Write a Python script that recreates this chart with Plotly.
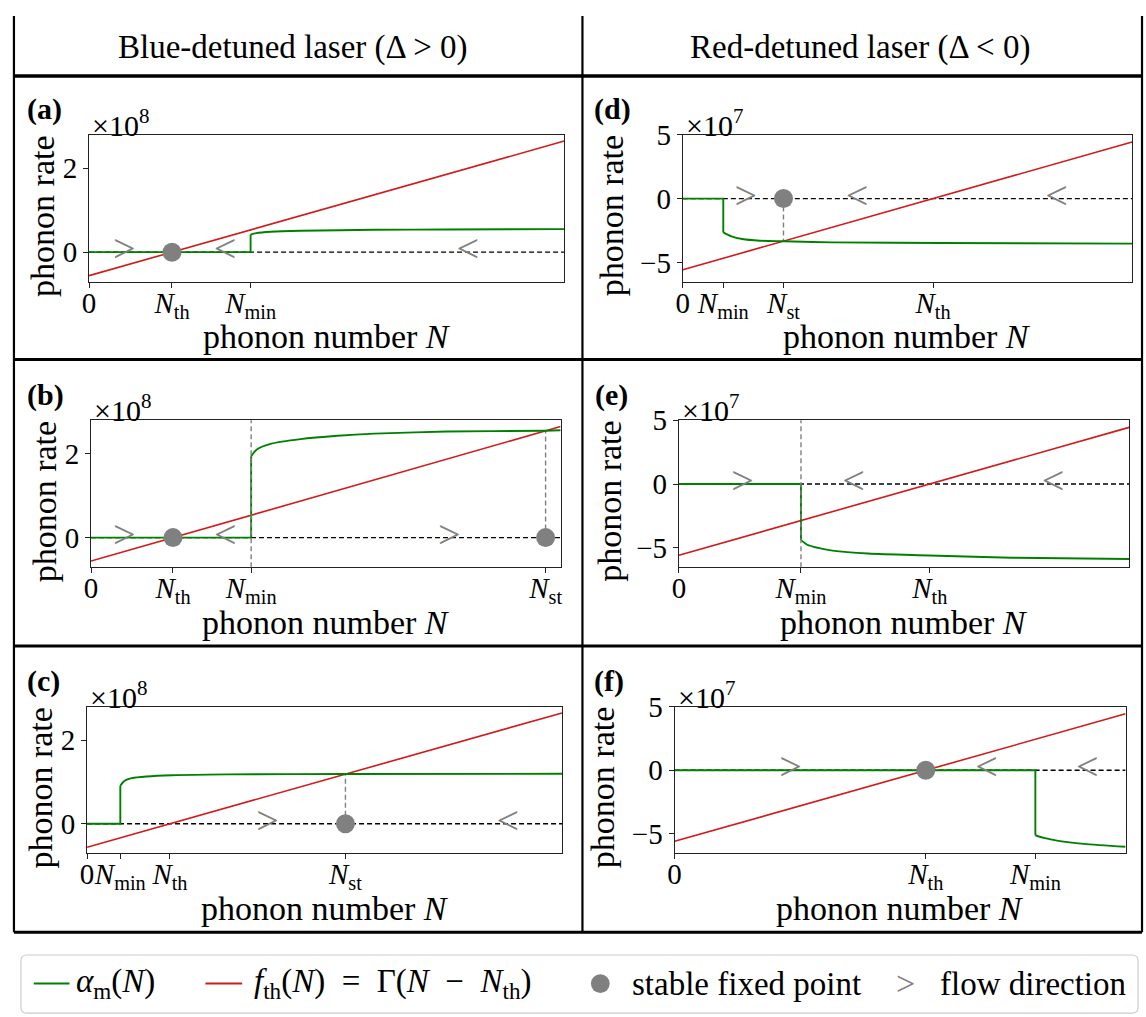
import plotly.graph_objects as go

W, H = 1146, 1017
SERIF = "Liberation Serif, Times New Roman, Times, serif"
GREEN = "#008000"
RED = "#d11a1a"
GRAY = "#808080"

# ---------------- data ----------------
# N is shown on a relative scale (0 … 1 of the plotted phonon-number range).
# Left column: blue-detuned laser, rates in units of 1e8.
blue_y_range = [-0.706, 2.8]
blue_y_ticks = [0, 2]
blue_red_ends = [-0.56, 2.65]          # f_th at N = 0 and at the right edge
blue_Nth = 0.1745

a_Nmin = 0.340
a_on_N = [0.340, 0.352, 0.383, 0.445, 0.599, 0.754, 1.0]
a_on_rate = [0.42, 0.455, 0.486, 0.51, 0.533, 0.541, 0.549]
a_flow_N = [0.074, 0.286, 0.797]
a_flow_dir = [">", "<", "<"]

b_Nmin = 0.341
b_Nst = 0.968
b_st_rate = 2.55
b_on_N = [0.341, 0.353, 0.384, 0.446, 0.525, 0.603, 0.759, 0.968, 1.0]
b_on_rate = [1.94, 2.10, 2.24, 2.35, 2.43, 2.48, 2.53, 2.55, 2.56]
b_flow_N = [0.071, 0.286, 0.763]
b_flow_dir = [">", "<", ">"]

c_Nmin = 0.070
c_Nst = 0.544
c_st_rate = 1.19
c_on_N = [0.070, 0.079, 0.094, 0.125, 0.179, 0.295, 0.544, 1.0]
c_on_rate = [0.91, 1.03, 1.09, 1.13, 1.16, 1.18, 1.19, 1.195]
c_flow_N = [0.380, 0.886]
c_flow_dir = [">", "<"]

# Right column: red-detuned laser, rates in units of 1e7.
red_y_range = [-6.52, 5.0]
red_y_ticks = [-5, 0, 5]
red_red_ends = [-5.58, 4.44]
red_Nth = 0.557

d_Nmin = 0.090
d_Nst = 0.224
d_st_rate = -3.35
d_on_N = [0.090, 0.108, 0.132, 0.172, 0.224, 0.332, 0.572, 1.0]
d_on_rate = [-2.65, -2.96, -3.17, -3.30, -3.35, -3.43, -3.48, -3.53]
d_flow_N = [0.140, 0.388, 0.832]
d_flow_dir = [">", "<", "<"]

e_Nmin = 0.271
e_on_N = [0.271, 0.285, 0.309, 0.341, 0.420, 0.556, 0.739, 1.0]
e_on_rate = [-4.38, -4.76, -5.01, -5.22, -5.45, -5.60, -5.78, -5.88]
e_flow_N = [0.141, 0.388, 0.831]
e_flow_dir = [">", "<", "<"]

f_Nmin = 0.800
f_on_N = [0.800, 0.819, 0.851, 0.907, 1.0]
f_on_rate = [-5.10, -5.31, -5.54, -5.78, -6.01]
f_flow_N = [0.257, 0.692, 0.915]
f_flow_dir = [">", "<", "<"]

NTH = "<i>N</i><sub>th</sub>"
NMIN = "<i>N</i><sub>min</sub>"
NST = "<i>N</i><sub>st</sub>"

panels = [
    dict(tag="(a)", exp="8", yr=blue_y_range, yt=blue_y_ticks, red=blue_red_ends,
         Nmin=a_Nmin, on_N=a_on_N, on_rate=a_on_rate,
         fixed=[blue_Nth], st=None, full_vline=None,
         flow_N=a_flow_N, flow_dir=a_flow_dir,
         xt=[(0, "0"), (blue_Nth, NTH), (a_Nmin, NMIN)]),
    dict(tag="(b)", exp="8", yr=blue_y_range, yt=blue_y_ticks, red=blue_red_ends,
         Nmin=b_Nmin, on_N=b_on_N, on_rate=b_on_rate,
         fixed=[blue_Nth, b_Nst], st=(b_Nst, b_st_rate), full_vline=b_Nmin,
         flow_N=b_flow_N, flow_dir=b_flow_dir,
         xt=[(0, "0"), (blue_Nth, NTH), (b_Nmin, NMIN), (b_Nst, NST)]),
    dict(tag="(c)", exp="8", yr=blue_y_range, yt=blue_y_ticks, red=blue_red_ends,
         Nmin=c_Nmin, on_N=c_on_N, on_rate=c_on_rate,
         fixed=[c_Nst], st=(c_Nst, c_st_rate), full_vline=None,
         flow_N=c_flow_N, flow_dir=c_flow_dir,
         xt=[(0, "0"), (c_Nmin, NMIN), (blue_Nth, NTH), (c_Nst, NST)]),
    dict(tag="(d)", exp="7", yr=red_y_range, yt=red_y_ticks, red=red_red_ends,
         Nmin=d_Nmin, on_N=d_on_N, on_rate=d_on_rate,
         fixed=[d_Nst], st=(d_Nst, d_st_rate), full_vline=None,
         flow_N=d_flow_N, flow_dir=d_flow_dir,
         xt=[(0, "0"), (d_Nmin, NMIN), (d_Nst, NST), (red_Nth, NTH)]),
    dict(tag="(e)", exp="7", yr=red_y_range, yt=red_y_ticks, red=red_red_ends,
         Nmin=e_Nmin, on_N=e_on_N, on_rate=e_on_rate,
         fixed=[], st=None, full_vline=e_Nmin,
         flow_N=e_flow_N, flow_dir=e_flow_dir,
         xt=[(0, "0"), (e_Nmin, NMIN), (red_Nth, NTH)]),
    dict(tag="(f)", exp="7", yr=red_y_range, yt=red_y_ticks, red=red_red_ends,
         Nmin=f_Nmin, on_N=f_on_N, on_rate=f_on_rate,
         fixed=[red_Nth], st=None, full_vline=None,
         flow_N=f_flow_N, flow_dir=f_flow_dir,
         xt=[(0, "0"), (red_Nth, NTH), (f_Nmin, NMIN)]),
]

# ---------------- layout geometry (pixels) ----------------
# plot boxes: left, right, top, bottom
boxes = [
    (82.7, 561.6, 120.7, 270.0),
    (84.7, 558.0, 410.7, 560.0),
    (80.7, 559.4, 701.7, 850.7),
    (681.2, 1134.0, 120.7, 270.0),
    (677.3, 1131.0, 410.7, 560.0),
    (672.9, 1127.4, 701.7, 850.7),
]
ytitle_x = [35, 38, 34, 609, 607, 601]
tag_x = [37.5, 39, 37, 610, 609, 607]


def px(x):
    return x / W


def py(y):
    return 1 - y / H


fig = go.Figure()
layout = dict(
    width=W, height=H, margin=dict(l=0, r=0, t=0, b=0),
    paper_bgcolor="white", plot_bgcolor="white", showlegend=False,
    font=dict(family=SERIF, color="black"),
)
annotations = []
shapes = []

for k, (p, box) in enumerate(zip(panels, boxes), start=1):
    xa = "x" if k == 1 else f"x{k}"
    ya = "y" if k == 1 else f"y{k}"
    x0, x1, y0, y1 = box
    ticktext_y = [("−" + str(-v)) if v < 0 else str(v) for v in p["yt"]]
    layout["xaxis" if k == 1 else f"xaxis{k}"] = dict(
        domain=[px(x0), px(x1)], range=[0, 1], anchor=ya,
        showgrid=False, zeroline=False, showline=True, mirror=True,
        linecolor="#222", linewidth=1.2,
        ticks="outside", ticklen=5, tickwidth=1.2, tickcolor="#222",
        tickangle=0, ticklabelstandoff=-10,
        tickvals=[t[0] for t in p["xt"]], ticktext=[t[1] for t in p["xt"]],
        tickfont=dict(family=SERIF, size=29, color="black"),
    )
    layout["yaxis" if k == 1 else f"yaxis{k}"] = dict(
        domain=[py(y1), py(y0)], range=p["yr"], anchor=xa,
        showgrid=False, zeroline=False, showline=True, mirror=True,
        linecolor="#222", linewidth=1.2,
        ticks="outside", ticklen=5, tickwidth=1.2, tickcolor="#222",
        tickvals=p["yt"], ticktext=ticktext_y,
        tickfont=dict(family=SERIF, size=29, color="black"),
    )

    # zero-rate reference line
    fig.add_trace(go.Scatter(x=[0, 1], y=[0, 0], mode="lines", xaxis=xa, yaxis=ya,
                             line=dict(color="black", width=1.4, dash="5px,3px"),
                             hoverinfo="skip"))
    # full-height marker at N_min
    if p["full_vline"] is not None:
        shapes.append(dict(type="line", xref=xa, yref=f"{ya} domain",
                           x0=p["full_vline"], x1=p["full_vline"], y0=0, y1=1,
                           line=dict(color=GRAY, width=1.4, dash="5px,3px")))
    # drop line from the stable fixed point to the curve crossing
    if p["st"] is not None:
        fig.add_trace(go.Scatter(x=[p["st"][0], p["st"][0]], y=[0, p["st"][1]],
                                 mode="lines", xaxis=xa, yaxis=ya,
                                 line=dict(color=GRAY, width=1.4, dash="5px,3px"),
                                 hoverinfo="skip"))
    # f_th(N)
    fig.add_trace(go.Scatter(x=[0, 1], y=p["red"], mode="lines", xaxis=xa, yaxis=ya,
                             line=dict(color=RED, width=1.6), hoverinfo="skip"))
    # alpha_m(N): zero branch plus jump, then the driven branch
    fig.add_trace(go.Scatter(x=[0, p["Nmin"], p["Nmin"]], y=[0, 0, p["on_rate"][0]],
                             mode="lines", xaxis=xa, yaxis=ya,
                             line=dict(color=GREEN, width=1.9), hoverinfo="skip"))
    fig.add_trace(go.Scatter(x=p["on_N"], y=p["on_rate"], mode="lines",
                             xaxis=xa, yaxis=ya,
                             line=dict(color=GREEN, width=1.9, shape="spline",
                                       smoothing=0.8),
                             hoverinfo="skip"))
    # stable fixed points
    if p["fixed"]:
        fig.add_trace(go.Scatter(x=p["fixed"], y=[0] * len(p["fixed"]), mode="markers",
                                 xaxis=xa, yaxis=ya, cliponaxis=False,
                                 marker=dict(size=19, color=GRAY), hoverinfo="skip"))
    # flow direction chevrons
    fig.add_trace(go.Scatter(x=p["flow_N"], y=[0] * len(p["flow_N"]), mode="text",
                             text=[("&gt;" if d == ">" else "&lt;") for d in p["flow_dir"]],
                             textposition="middle center", xaxis=xa, yaxis=ya,
                             textfont=dict(family=SERIF, size=40, color=GRAY),
                             hoverinfo="skip"))

    # panel tag
    annotations.append(dict(text=f"<b>{p['tag']}</b>", x=px(tag_x[k - 1]), y=py(y0 - 26),
                            xref="paper", yref="paper", showarrow=False,
                            xanchor="center", yanchor="middle",
                            font=dict(family=SERIF, size=30)))
    # axis multiplier
    annotations.append(dict(text=f"×10<sup>{p['exp']}</sup>", x=px(x0 + 1), y=py(y0 - 12),
                            xref="paper", yref="paper", showarrow=False,
                            xanchor="left", yanchor="middle",
                            font=dict(family=SERIF, size=30)))
    # axis titles
    annotations.append(dict(text="phonon rate", x=px(ytitle_x[k - 1]), y=py((y0 + y1) / 2 + 8),
                            xref="paper", yref="paper", showarrow=False, textangle=-90,
                            xanchor="center", yanchor="middle",
                            font=dict(family=SERIF, size=34)))
    annotations.append(dict(text="phonon number <i>N</i>", x=px((x0 + x1) / 2),
                            y=py(y1 + 56), xref="paper", yref="paper", showarrow=False,
                            xanchor="center", yanchor="middle",
                            font=dict(family=SERIF, size=34)))

# column headers
annotations.append(dict(text="Blue-detuned laser (Δ &gt; 0)", x=px(288), y=py(32),
                        xref="paper", yref="paper", showarrow=False,
                        xanchor="center", yanchor="middle", font=dict(family=SERIF, size=33)))
annotations.append(dict(text="Red-detuned laser (Δ &lt; 0)", x=px(860), y=py(32),
                        xref="paper", yref="paper", showarrow=False,
                        xanchor="center", yanchor="middle", font=dict(family=SERIF, size=33)))

# table rules
for xv in (7, 580, 1144):
    shapes.append(dict(type="line", xref="paper", yref="paper",
                       x0=px(xv), x1=px(xv), y0=py(0), y1=py(931),
                       line=dict(color="black", width=2.2)))
for yv, wdt in ((61, 3.5), (349, 3), (640, 3), (931, 3)):
    shapes.append(dict(type="line", xref="paper", yref="paper",
                       x0=px(7), x1=px(1144), y0=py(yv), y1=py(yv),
                       line=dict(color="black", width=wdt)))

# legend box (rounded)
lx0, lx1, ly0, ly1, r = 14, 1140, 954, 1013, 6
path = (f"M {px(lx0 + r)},{py(ly0)} L {px(lx1 - r)},{py(ly0)} "
        f"Q {px(lx1)},{py(ly0)} {px(lx1)},{py(ly0 + r)} L {px(lx1)},{py(ly1 - r)} "
        f"Q {px(lx1)},{py(ly1)} {px(lx1 - r)},{py(ly1)} L {px(lx0 + r)},{py(ly1)} "
        f"Q {px(lx0)},{py(ly1)} {px(lx0)},{py(ly1 - r)} L {px(lx0)},{py(ly0 + r)} "
        f"Q {px(lx0)},{py(ly0)} {px(lx0 + r)},{py(ly0)} Z")
shapes.append(dict(type="path", xref="paper", yref="paper", path=path,
                   line=dict(color="#cccccc", width=1.2)))
ly = 983
shapes.append(dict(type="line", xref="paper", yref="paper", x0=px(27), x1=px(63),
                   y0=py(ly), y1=py(ly), line=dict(color=GREEN, width=2)))
shapes.append(dict(type="line", xref="paper", yref="paper", x0=px(200), x1=px(237),
                   y0=py(ly), y1=py(ly), line=dict(color=RED, width=2)))
shapes.append(dict(type="circle", xref="paper", yref="paper",
                   x0=px(598 - 9.5), x1=px(598 + 9.5), y0=py(ly + 9.5), y1=py(ly - 9.5),
                   fillcolor=GRAY, line=dict(width=0)))
SP = "\u2002"
legend_texts = [
    (68, "<i>α</i><sub>m</sub>(<i>N</i>)"),
    (247, f"<i>f</i><sub>th</sub>(<i>N</i>){SP}={SP}Γ(<i>N</i>{SP}−{SP}<i>N</i><sub>th</sub>)"),
    (628, "stable fixed point"),
    (938, "flow direction"),
]
for xv, t in legend_texts:
    annotations.append(dict(text=t, x=px(xv), y=py(ly), xref="paper", yref="paper",
                            showarrow=False, xanchor="left", yanchor="middle",
                            font=dict(family=SERIF, size=33)))
annotations.append(dict(text="&gt;", x=px(906), y=py(ly), xref="paper", yref="paper",
                        showarrow=False, xanchor="center", yanchor="middle",
                        font=dict(family=SERIF, size=34, color=GRAY)))

layout["annotations"] = annotations
layout["shapes"] = shapes
fig.update_layout(**layout)

# pin the figure to the top-left corner of the page
pin = ("document.documentElement.style.margin='0px';"
       "document.body.style.margin='0px';"
       "document.body.style.padding='0px';"
       "var gd=document.getElementById('{plot_id}');"
       "gd.style.position='absolute';gd.style.left='0px';gd.style.top='0px';")
fig.write_html("out.html", post_script=pin)
